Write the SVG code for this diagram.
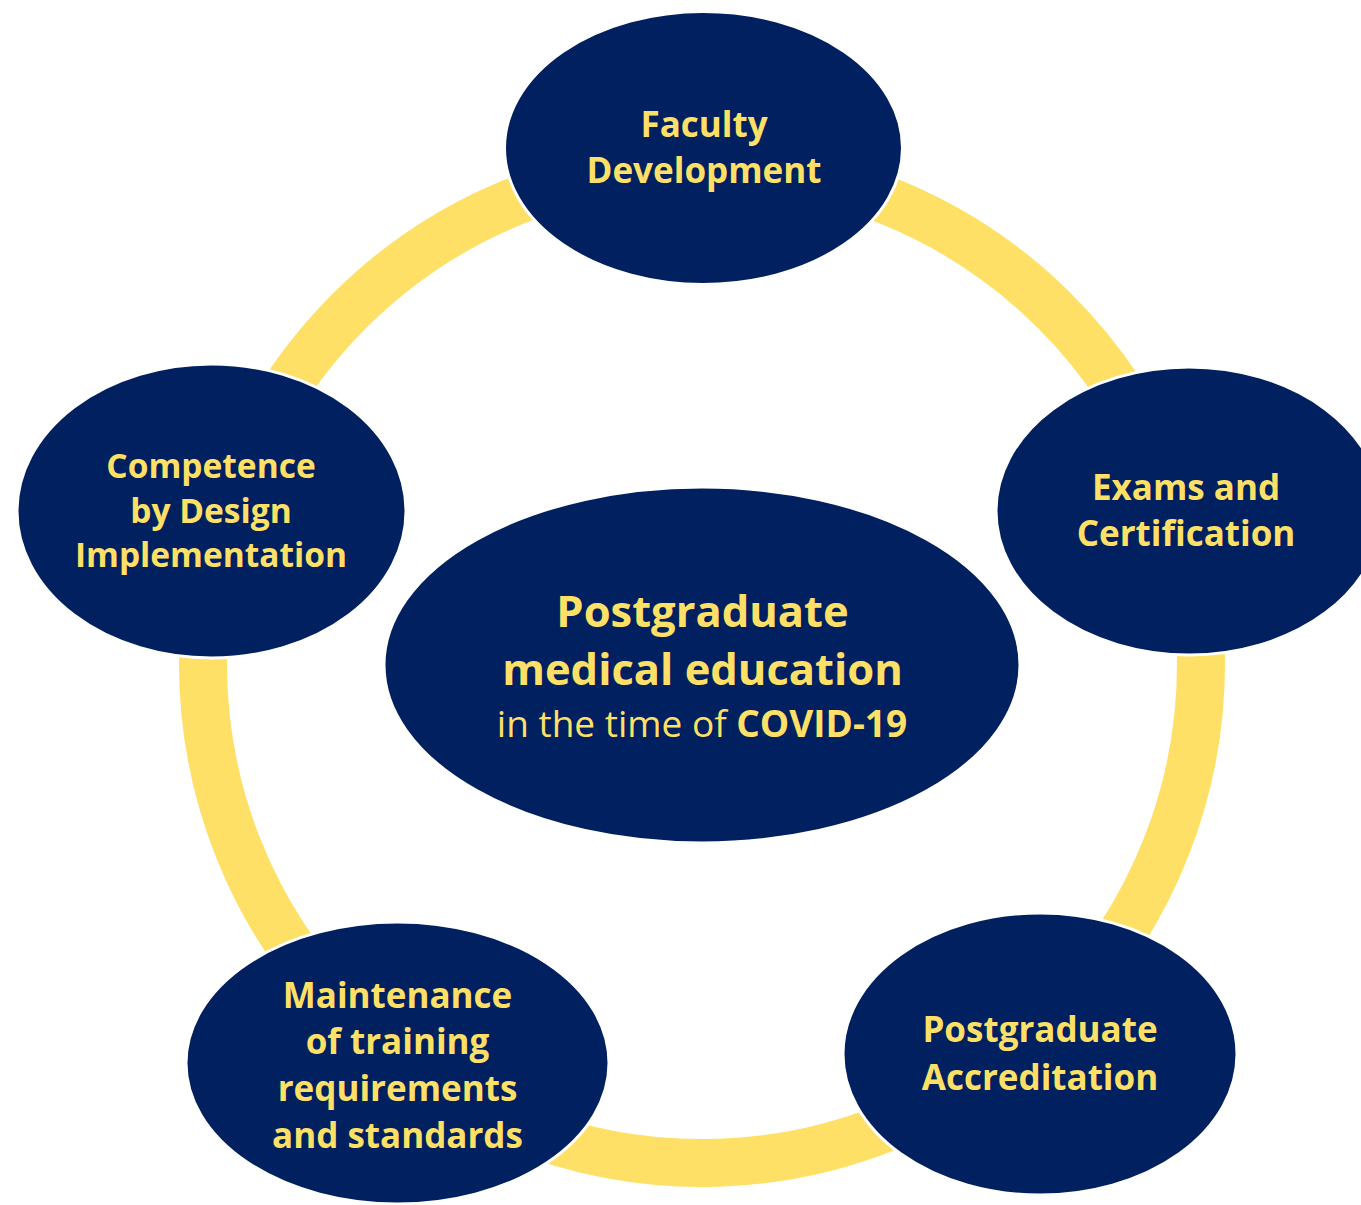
<svg xmlns="http://www.w3.org/2000/svg" width="1361" height="1205" viewBox="0 0 1361 1205">
  <style>
    .node { fill: #002060; stroke: #ffffff; stroke-width: 3; }
    .ring { fill: none; stroke: #FFE066; stroke-width: 48; }
    .label { fill: #FFE066; font-family: "Open Sans", "Noto Sans", "DejaVu Sans", sans-serif; font-weight: 700; font-size: 35px; text-anchor: middle; }
    .narrow { font-size: 33.5px; }
    .big { font-size: 43.5px; }
    .sub { font-size: 37px; }
    .light { font-weight: 400; }
  </style>
  <rect width="1361" height="1205" fill="#ffffff"/>

  <!-- yellow cycle joining the five topics -->
  <g id="connectors">
    <circle class="ring" cx="702" cy="664" r="499"/>
  </g>

  <g id="faculty-development">
    <ellipse class="node" cx="703.5" cy="148" rx="199" ry="136.5"/>
    <text class="label" x="704" y="137">Faculty</text>
    <text class="label" x="704" y="183">Development</text>
  </g>

  <g id="exams-certification">
    <ellipse class="node" cx="1189" cy="511" rx="193" ry="144"/>
    <text class="label" x="1186" y="500">Exams and</text>
    <text class="label" x="1186" y="546">Certification</text>
  </g>

  <g id="postgraduate-accreditation">
    <ellipse class="node" cx="1040" cy="1054" rx="197" ry="141"/>
    <text class="label" x="1040" y="1042">Postgraduate</text>
    <text class="label" x="1040" y="1090">Accreditation</text>
  </g>

  <g id="maintenance-training">
    <ellipse class="node" cx="397.5" cy="1063" rx="211.5" ry="141"/>
    <text class="label" x="397.5" y="1008">Maintenance</text>
    <text class="label" x="397.5" y="1054">of training</text>
    <text class="label" x="397.5" y="1101">requirements</text>
    <text class="label" x="397.5" y="1148">and standards</text>
  </g>

  <g id="competence-by-design">
    <ellipse class="node" cx="211.5" cy="511" rx="194.5" ry="147"/>
    <text class="label narrow" x="211" y="478">Competence</text>
    <text class="label narrow" x="211" y="523">by Design</text>
    <text class="label narrow" x="211" y="567">Implementation</text>
  </g>

  <g id="pgme-covid">
    <ellipse class="node" cx="702" cy="665" rx="318" ry="178"/>
    <text class="label big" x="702.5" y="627">Postgraduate</text>
    <text class="label big" x="702.5" y="685">medical education</text>
    <text class="label sub" x="702" y="737"><tspan class="light">in the time of </tspan>COVID-19</text>
  </g>
</svg>
